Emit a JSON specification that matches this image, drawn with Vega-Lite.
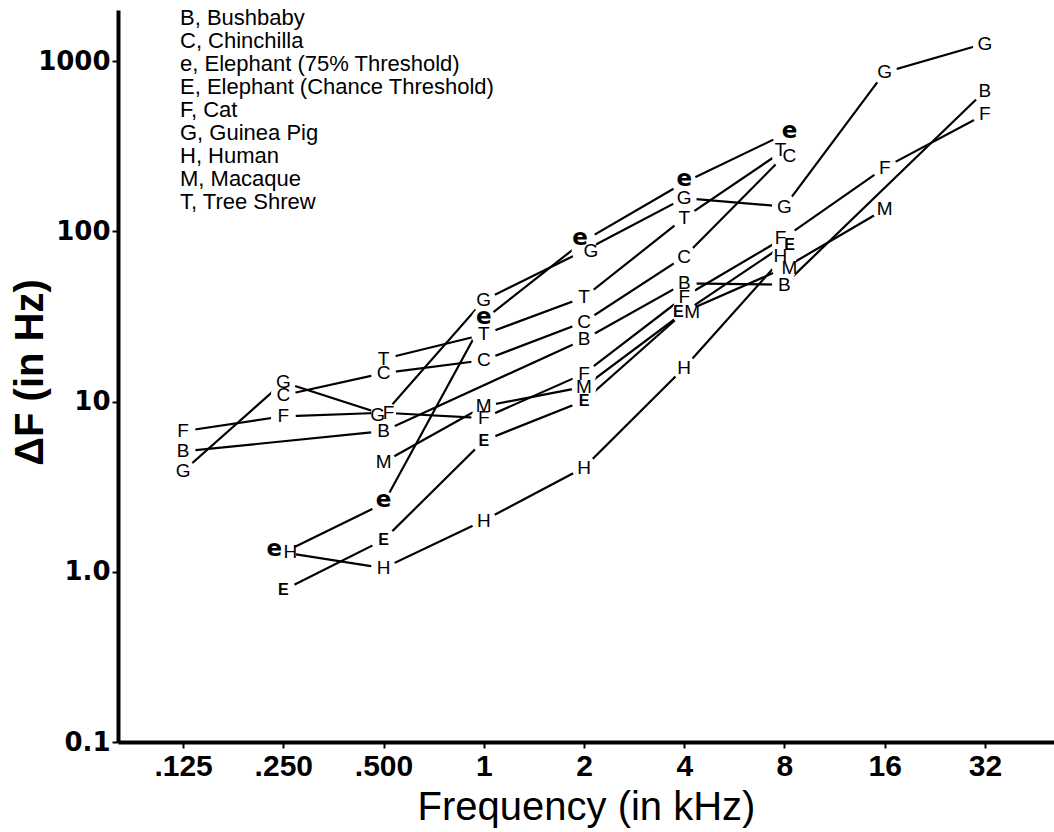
{
  "$schema": "https://vega.github.io/schema/vega-lite/v6.json",
  "width": 936,
  "height": 732,
  "autosize": {"type": "none"},
  "padding": {"left": 118, "top": 10, "right": 0, "bottom": 90},
  "background": "white",
  "config": {"view": {"stroke": null}, "font": "Liberation Sans"},
  "data": {
    "values": [
      {"s": "B", "f": 0.125, "v": 5.1}, {"s": "B", "f": 0.5, "v": 6.7}, {"s": "B", "f": 2, "v": 23.2}, {"s": "B", "f": 4, "v": 49.5}, {"s": "B", "f": 8, "v": 48.7}, {"s": "B", "f": 32, "v": 669},
      {"s": "C", "f": 0.25, "v": 10.9}, {"s": "C", "f": 0.5, "v": 14.7}, {"s": "C", "f": 1, "v": 17.5}, {"s": "C", "f": 2, "v": 29.4}, {"s": "C", "f": 4, "v": 71}, {"s": "C", "f": 8, "v": 279},
      {"s": "e", "f": 0.25, "v": 1.3}, {"s": "e", "f": 0.5, "v": 2.52}, {"s": "e", "f": 1, "v": 30.3}, {"s": "e", "f": 2, "v": 88}, {"s": "e", "f": 4, "v": 194}, {"s": "e", "f": 8, "v": 372},
      {"s": "E", "f": 0.25, "v": 0.78}, {"s": "E", "f": 0.5, "v": 1.54}, {"s": "E", "f": 1, "v": 5.9}, {"s": "E", "f": 2, "v": 10.1}, {"s": "E", "f": 4, "v": 33.6}, {"s": "E", "f": 8, "v": 83.5},
      {"s": "F", "f": 0.125, "v": 6.7}, {"s": "F", "f": 0.25, "v": 8.2}, {"s": "F", "f": 0.5, "v": 8.6}, {"s": "F", "f": 1, "v": 8.0}, {"s": "F", "f": 2, "v": 14.6}, {"s": "F", "f": 4, "v": 41.3}, {"s": "F", "f": 8, "v": 92}, {"s": "F", "f": 16, "v": 237}, {"s": "F", "f": 32, "v": 488},
      {"s": "G", "f": 0.125, "v": 3.9}, {"s": "G", "f": 0.25, "v": 13.0}, {"s": "G", "f": 0.5, "v": 8.4}, {"s": "G", "f": 1, "v": 39.4}, {"s": "G", "f": 2, "v": 77}, {"s": "G", "f": 4, "v": 157}, {"s": "G", "f": 8, "v": 140}, {"s": "G", "f": 16, "v": 860}, {"s": "G", "f": 32, "v": 1271},
      {"s": "H", "f": 0.25, "v": 1.3}, {"s": "H", "f": 0.5, "v": 1.05}, {"s": "H", "f": 1, "v": 2.0}, {"s": "H", "f": 2, "v": 4.1}, {"s": "H", "f": 4, "v": 15.8}, {"s": "H", "f": 8, "v": 72},
      {"s": "M", "f": 0.5, "v": 4.4}, {"s": "M", "f": 1, "v": 9.4}, {"s": "M", "f": 2, "v": 12.2}, {"s": "M", "f": 4, "v": 33.6}, {"s": "M", "f": 8, "v": 61}, {"s": "M", "f": 16, "v": 135},
      {"s": "T", "f": 0.5, "v": 17.8}, {"s": "T", "f": 1, "v": 24.8}, {"s": "T", "f": 2, "v": 41}, {"s": "T", "f": 4, "v": 120}, {"s": "T", "f": 8, "v": 301}
    ]
  },
  "encoding": {
    "x": {
      "field": "f", "type": "quantitative",
      "scale": {"type": "log", "base": 2, "domain": [0.0797, 51.6], "nice": false},
      "axis": {
        "values": [0.125, 0.25, 0.5, 1, 2, 4, 8, 16, 32],
        "labelExpr": "datum.value == 0.125 ? '.125' : datum.value == 0.25 ? '.250' : datum.value == 0.5 ? '.500' : format(datum.value, 'd')",
        "grid": false, "domainColor": "black", "domainWidth": 4, "tickColor": "black", "tickWidth": 2, "tickSize": 6,
        "labelFont": "Liberation Sans Narrow, Liberation Sans", "labelFontWeight": "bold", "labelFontSize": 30, "labelColor": "black", "labelPadding": 3,
        "title": "Frequency (in kHz)", "titleFont": "Liberation Sans", "titleFontSize": 40, "titleFontWeight": "normal", "titleColor": "black", "titlePadding": 6
      }
    },
    "y": {
      "field": "v", "type": "quantitative",
      "scale": {"type": "log", "domain": [0.1, 2000], "nice": false},
      "axis": {
        "values": [0.1, 1, 10, 100, 1000],
        "labelExpr": "datum.value == 0.1 ? '0.1' : datum.value == 1 ? '1.0' : format(datum.value, 'd')",
        "grid": false, "domainColor": "black", "domainWidth": 4, "tickColor": "black", "tickWidth": 2, "tickSize": 6,
        "labelFont": "DejaVu Sans", "labelFontWeight": "bold", "labelFontSize": 26, "labelColor": "black", "labelPadding": 2,
        "title": "ΔF (in Hz)", "titleFont": "Liberation Sans", "titleFontSize": 40, "titleFontWeight": "bold", "titleColor": "black",
        "titleX": -88, "titleY": 362, "titleAngle": -90, "titleBaseline": "middle", "titleAlign": "center"
      }
    }
  },
  "layer": [
    {"mark": {"type": "line", "color": "black", "strokeWidth": 2.2}, "encoding": {"detail": {"field": "s", "type": "nominal"}}},
    {"mark": {"type": "point", "filled": true, "fill": "white", "color": "white", "size": 620, "opacity": 1, "strokeWidth": 0}},
    {
      "mark": {
        "type": "text", "align": "center", "baseline": "middle",
        "dx": {"expr": "(datum.s==='e'&&datum.f==0.25)?-9:(datum.s==='H'&&datum.f==0.25)?7:(datum.s==='G'&&datum.f==0.5)?-6:(datum.s==='F'&&datum.f==0.5)?5:(datum.s==='e'&&datum.f==2)?-4:(datum.s==='G'&&datum.f==2)?7:(datum.s==='E'&&datum.f==4)?-6:(datum.s==='M'&&datum.f==4)?8:(datum.f==8&&(datum.s==='T'||datum.s==='F'||datum.s==='H'))?-4:(datum.f==8&&(datum.s==='C'||datum.s==='E'||datum.s==='e'||datum.s==='M'))?5:0"},
        "dy": {"expr": "datum.s==='e'?-3:0"},
        "font": {"expr": "datum.s==='e'?'DejaVu Sans':'Liberation Sans'"},
        "fontWeight": {"expr": "(datum.s==='e'||datum.s==='E')?'bold':'normal'"},
        "fontSize": {"expr": "datum.s==='e'?23:datum.s==='E'?16:19"}
      },
      "encoding": {
        "text": {"field": "s", "type": "nominal"},
        "color": {
          "field": "s", "type": "nominal",
          "scale": {"domain": ["B", "C", "e", "E", "F", "G", "H", "M", "T"], "range": ["black", "black", "black", "black", "black", "black", "black", "black", "black"]},
          "legend": {
            "title": null, "orient": "none", "legendX": 40, "legendY": -3, "padding": 0,
            "symbolSize": 0, "symbolOpacity": 0, "symbolStrokeWidth": 0, "labelOffset": 0,
            "labelFont": "Liberation Sans", "labelFontSize": 22, "labelColor": "black", "labelLimit": 500, "rowPadding": 1,
            "labelExpr": "datum.value==='B'?'B, Bushbaby':datum.value==='C'?'C, Chinchilla':datum.value==='e'?'e, Elephant (75% Threshold)':datum.value==='E'?'E, Elephant (Chance Threshold)':datum.value==='F'?'F, Cat':datum.value==='G'?'G, Guinea Pig':datum.value==='H'?'H, Human':datum.value==='M'?'M, Macaque':'T, Tree Shrew'"
          }
        }
      }
    }
  ]
}
